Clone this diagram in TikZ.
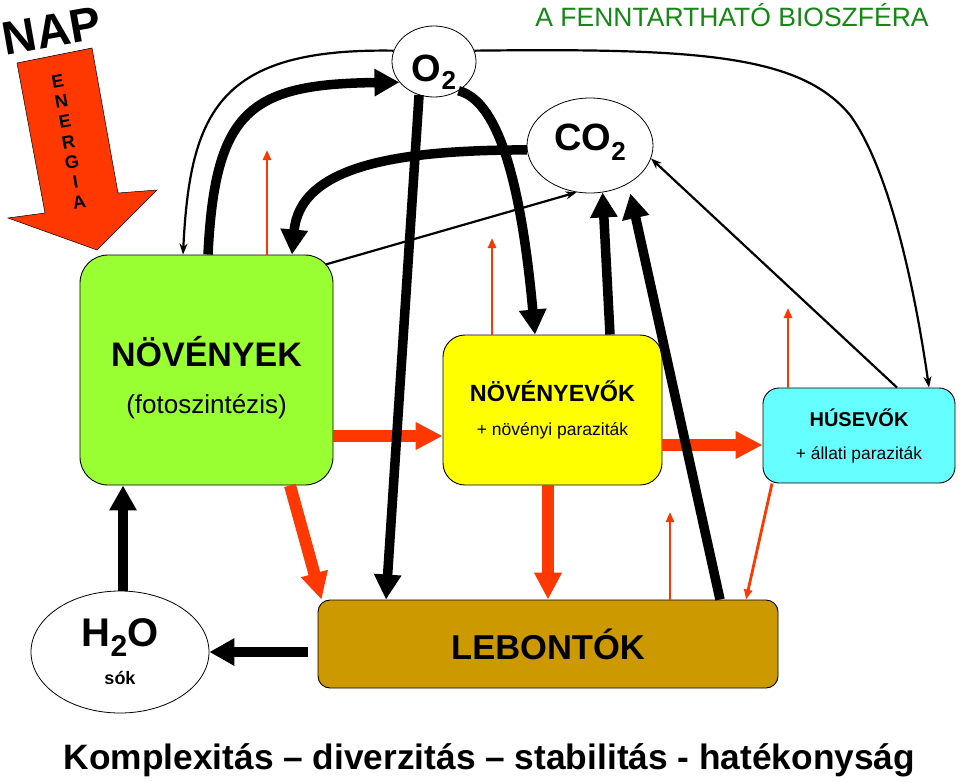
\documentclass[tikz,border=0pt]{standalone}
\usepackage{fontspec}
\setmainfont{Liberation Sans}
\usetikzlibrary{arrows.meta,positioning,shapes.geometric}

\definecolor{plantgreen}{RGB}{153,255,51}
\definecolor{herbyellow}{RGB}{255,255,0}
\definecolor{carncyan}{RGB}{102,255,255}
\definecolor{decomp}{RGB}{204,153,0}
\definecolor{hotred}{RGB}{255,55,0}
\definecolor{titlegreen}{RGB}{20,135,20}

\begin{document}
\begin{tikzpicture}[x=1pt, y=-1pt,
  box/.style={draw, line width=0.9pt, align=center, inner sep=0pt},
  gas/.style={draw, ellipse, line width=0.8pt, inner sep=0pt, font=\bfseries\fontsize{38}{38}\selectfont},
  bigflow/.style={line width=9.5pt, -{Triangle[length=25pt,width=26pt]}},
  thinflow/.style={line width=2.2pt, -{Stealth[length=11pt,width=8pt]}},
  redflow/.style={hotred, line width=12pt, -{Triangle[length=27pt,width=26pt]}},
  heat/.style={hotred, line width=2.8pt, -{Triangle[length=10pt,width=8pt]}}
]
\useasboundingbox (0,0) rectangle (960,781);

% sun and energy
\node[font=\bfseries\fontsize{47}{47}\selectfont, rotate=10, inner sep=0pt] (nap) at (52,31) {NAP};
\filldraw[fill=hotred, draw=black, line width=0.5pt]
  (17,63) -- (92,48) -- (118,193) -- (157,190) -- (97,250) -- (8,218) -- (45,213) -- cycle;
\node[font=\bfseries\fontsize{18}{20.5}\selectfont, align=center, rotate=10, inner sep=0pt] (energia) at (68.5,142)
  {E\\N\\E\\R\\G\\I\\A};

\node[anchor=base, text=titlegreen, font=\fontsize{26.5}{26.5}\selectfont] (title) at (732,27)
  {A FENNTARTHATÓ BIOSZFÉRA};

% organisms
\node[box, fill=plantgreen, rounded corners=28pt, minimum width=253pt, minimum height=230pt] (novenyek) at (206.5,370) {};
\node[align=center, font=\bfseries\fontsize{34}{47}\selectfont] (novenyektext) at ([yshift=-7.5pt]novenyek.center)
  {NÖVÉNYEK\\{\mdseries\fontsize{26}{47}\selectfont (fotoszintézis)}};
\node[box, fill=herbyellow, rounded corners=22pt, minimum width=219pt, minimum height=150pt,
  font=\bfseries\fontsize{23.4}{34}\selectfont] (novenyevok) at (552.5,410)
  {NÖVÉNYEVŐK\\{\mdseries\fontsize{17.5}{34}\selectfont + növényi paraziták}};
\node[box, fill=carncyan, rounded corners=16pt, minimum width=192pt, minimum height=95pt,
  font=\bfseries\fontsize{20}{33}\selectfont] (husevok) at (859,435.5)
  {HÚSEVŐK\\{\mdseries\fontsize{17.4}{33}\selectfont + állati paraziták}};
\node[box, fill=decomp, rounded corners=12pt, minimum width=460pt, minimum height=88pt,
  font=\bfseries\fontsize{34.5}{34.5}\selectfont] (lebontok) at (548,644) {LEBONTÓK};

% gases
\node[gas, minimum width=84pt, minimum height=71pt, text height=41pt, text depth=0pt] (o2) at (434,61.5)
  {O\raisebox{-8pt}{\fontsize{26}{26}\selectfont 2}};
\node[gas, minimum width=126pt, minimum height=95pt, text height=30pt, text depth=21pt] (co2) at (590,145.5)
  {CO\raisebox{-10pt}{\fontsize{26}{26}\selectfont 2}};
\node[gas, minimum width=178pt, minimum height=122pt, align=center, font=\bfseries\fontsize{40}{38}\selectfont] (h2o) at (120,652)
  {H\raisebox{-10pt}{\fontsize{30}{30}\selectfont 2}O\\{\fontsize{18}{38}\selectfont sók}};

\node[anchor=base, font=\bfseries\fontsize{35.3}{35.3}\selectfont] (motto) at (489.5,769)
  {Komplexitás – diverzitás – stabilitás - hatékonyság};

% food chain
\draw[redflow] ([yshift=-66pt]novenyek.east) -- ([yshift=-26pt]novenyevok.west);
\draw[redflow] ([yshift=-35pt]novenyevok.east) -- ([yshift=-9.5pt]husevok.west);
\draw[redflow] ([xshift=83.5pt]novenyek.south) -- ([xshift=4pt]lebontok.north west);
\draw[redflow] ([xshift=-4.5pt]novenyevok.south) -- (lebontok.north);

% heat losses
\coordinate (heatA) at (267,150);
\coordinate (heatB) at (492,238);
\coordinate (heatC) at (788,308);
\coordinate (heatD) at (670,512);
\draw[heat] ([xshift=60.5pt]novenyek.north) -- (heatA);
\draw[heat] ([xshift=-60.5pt]novenyevok.north) -- (heatB);
\draw[heat] ([xshift=-71pt]husevok.north) -- (heatC);
\draw[heat] ([xshift=122pt]lebontok.north) -- (heatD);
\draw[heat] ([xshift=-87pt]husevok.south) -- ([xshift=198pt]lebontok.north);

% gas exchange
\draw[thinflow] (o2.165) .. controls (220,48) and (190,110) .. ([xshift=-23.5pt]novenyek.north);
\draw[thinflow] (o2.15) .. controls (700,48) and (800,55) .. (850,115)
  .. controls (890,170) and (915,290) .. ([xshift=70pt]husevok.north);
\draw[thinflow] ([xshift=38pt]husevok.north) -- (co2.-12);
\draw[thinflow] ([xshift=-8pt,yshift=-10pt]novenyek.north east) -- (co2.254);
\draw[bigflow] ([xshift=1.5pt]novenyek.north) .. controls (215,110) and (250,84) .. (o2.211);
\draw[bigflow] (co2.184) .. controls (400,150) and (300,165) .. ([xshift=85.5pt]novenyek.north);
\draw[bigflow] (o2.246) -- ([xshift=-162pt]lebontok.north);
\draw[bigflow] (o2.-50) .. controls (495,100) and (520,170) .. ([xshift=-17.5pt]novenyevok.north);
\draw[bigflow] ([xshift=57.5pt]novenyevok.north) -- (co2.-75);
\draw[bigflow, shorten >=10pt] ([xshift=172pt]lebontok.north) -- (co2.-45);

% water and salts
\draw[bigflow, shorten <=10pt] ([yshift=-8pt]lebontok.west) -- (h2o.east);
\draw[bigflow] ([xshift=3pt]h2o.north) -- ([xshift=-83.5pt]novenyek.south);
\end{tikzpicture}
\end{document}
